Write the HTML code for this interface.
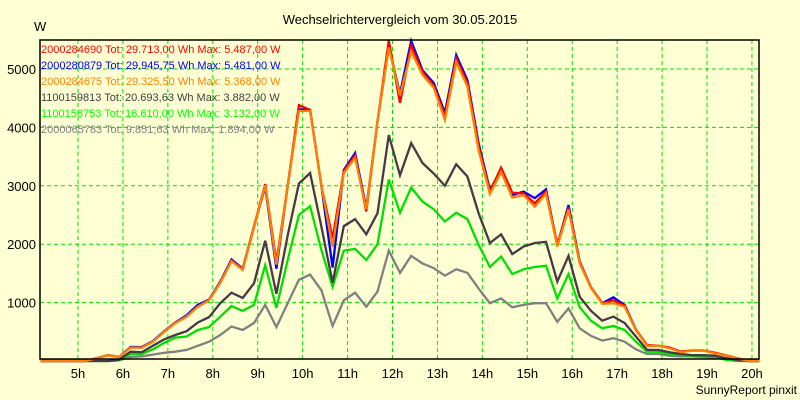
<!DOCTYPE html>
<html><head><meta charset="utf-8"><style>
html,body{margin:0;padding:0;background:#ffffd4;}
svg{display:block;font-family:"Liberation Sans",Arial,sans-serif;}
</style></head><body>
<svg id="chart" width="800" height="400" viewBox="0 0 800 400" xmlns="http://www.w3.org/2000/svg">
<rect x="0" y="0" width="800" height="400" fill="#ffffd4"/>
<text x="400" y="24" text-anchor="middle" font-size="13" fill="#000">Wechselrichtervergleich vom 30.05.2015</text>
<text x="34" y="31" font-size="13" fill="#000">W</text>
<g id="grid"></g>
<g id="series"></g>
<g id="axes"></g>
<g id="legend"></g>
<text x="797" y="394" text-anchor="end" font-size="12" fill="#000">SunnyReport pinxit</text>
</svg>
<script>
const startHour = 4 + 10/60;
const stepHours = 0.25;
const yTicks = [1000, 2000, 3000, 4000, 5000];
const xTickHours = [5,6,7,8,9,10,11,12,13,14,15,16,17,18,19,20];
const xTickLabels = ["5h","6h","7h","8h","9h","10h","11h","12h","13h","14h","15h","16h","17h","18h","19h","20h"];
const seriesNames = ["2000284690","2000280879","2000284675","1100159813","1100158753","2000065783"];
const legendTexts = [
 "2000284690 Tot: 29.713,00 Wh Max: 5.487,00 W",
 "2000280879 Tot: 29.945,75 Wh Max: 5.481,00 W",
 "2000284675 Tot: 29.325,50 Wh Max: 5.368,00 W",
 "1100159813 Tot: 20.693,63 Wh Max: 3.882,00 W",
 "1100158753 Tot: 16.610,00 Wh Max: 3.132,00 W",
 "2000065783 Tot: 9.851,63 Wh Max: 1.894,00 W"];
const red = [0,0,0,0,0,50,100,70,230,230,330,500,650,760,930,1040,1340,1720,1570,2300,3030,1700,3000,4380,4300,3000,2100,3250,3520,2560,4100,5487,4420,5400,4950,4720,4200,5180,4760,3680,2900,3310,2880,2870,2700,2900,1990,2630,1690,1260,990,1040,950,530,270,260,230,160,180,180,140,100,50,0,0];
const blue = [0,0,0,0,0,50,100,70,240,240,340,510,660,780,960,1050,1360,1740,1580,2300,2980,1580,3000,4310,4300,3000,1600,3270,3560,2620,4100,5380,4580,5481,4980,4760,4250,5240,4810,3730,2930,3270,2840,2900,2790,2940,1980,2670,1700,1260,990,1090,960,540,270,260,230,160,180,180,140,100,50,0,0];
const orange = [0,0,0,0,0,50,100,70,230,230,330,500,650,760,930,1040,1340,1710,1560,2280,3010,1650,3000,4280,4280,3000,1950,3220,3480,2600,4100,5368,4550,5300,4900,4680,4130,5120,4700,3610,2860,3240,2800,2840,2640,2870,1960,2590,1670,1250,980,990,930,530,260,260,220,150,180,180,130,100,50,0,0];
const dark = [0,0,0,0,0,0,0,20,160,150,260,370,445,510,660,750,990,1170,1080,1330,2060,1150,2150,3040,3220,2300,1340,2310,2430,2170,2530,3870,3180,3730,3390,3210,3000,3370,3160,2530,2020,2170,1830,1960,2020,2040,1360,1800,1100,860,690,760,650,420,190,190,150,120,100,100,90,50,20,0,0];
const green = [0,0,0,0,0,0,0,10,120,120,200,310,400,420,530,580,760,940,860,960,1640,910,1730,2500,2650,1900,1270,1890,1920,1730,2000,3110,2540,2970,2730,2600,2390,2540,2430,1990,1610,1790,1490,1570,1610,1630,1070,1490,920,690,560,600,530,330,160,160,120,100,90,90,70,20,0,0,0];
const gray = [0,0,0,0,0,0,0,10,70,80,110,140,160,190,260,330,445,590,530,650,960,580,990,1390,1480,1210,600,1040,1170,930,1190,1890,1510,1800,1670,1590,1460,1570,1510,1240,990,1070,920,960,990,990,670,900,560,430,350,390,330,200,120,120,90,80,80,70,60,30,0,0,0];

const L=40,R=759,T=40,B=359;
function xScale(h){return 78 + (h-5)*44.93;}
function yScale(v){return 361 - v*0.0584;}
const NS="http://www.w3.org/2000/svg";
const grid=document.getElementById('grid'), axes=document.getElementById('axes'), sg=document.getElementById('series'), lg=document.getElementById('legend');
function mk(tag,attrs,parent){const e=document.createElementNS(NS,tag);for(const k in attrs)e.setAttribute(k,attrs[k]);parent.appendChild(e);return e;}

yTicks.forEach(v=>{
  const y=yScale(v);
  const g=mk('line',{x1:L,x2:R,y1:y,y2:y,stroke:'#00e000','stroke-width':1,'stroke-dasharray':'4,3'},grid);
  
  
  const t=mk('text',{x:36,y:y+5,'text-anchor':'end','font-size':13,fill:'#000'},axes);
  t.textContent=String(v);
  
  
});
xTickHours.forEach((h,i)=>{
  const x=xScale(h);
  const g=mk('line',{x1:x,x2:x,y1:T,y2:B,stroke:'#00e000','stroke-width':1,'stroke-dasharray':'4,3'},grid);
  
  
  const t=mk('text',{x:x,y:378,'text-anchor':'middle','font-size':13,fill:'#000'},axes);
  t.textContent=xTickLabels[i];
  
  
});
const frame=mk('rect',{x:L,y:T,width:R-L,height:B-T,fill:'none',stroke:'#000','stroke-width':1.5},axes);



const seriesData=[gray,green,dark,blue,red,orange];
const seriesColors=['#808080','#00e000','#483848','#0000ff','#ff0000','#ff8000'];
const seriesKeys=['series-2000065783','series-1100158753','series-1100159813','series-2000280879','series-2000284690','series-2000284675'];
seriesData.forEach((arr,si)=>{
  const pts=arr.map((v,i)=>xScale(startHour+i*stepHours).toFixed(1)+','+yScale(v).toFixed(1)).join(' ');
  const p=mk('polyline',{points:pts,fill:'none',stroke:seriesColors[si],'stroke-width':2.3,'stroke-linejoin':'miter'},sg);
  
  
});
const legendColors=['#ff0000','#0000ff','#ff8000','#404040','#00ff00','#808080'];
legendTexts.forEach((s,i)=>{
  const t=mk('text',{x:41,y:53+i*16,'font-size':11,fill:legendColors[i]},lg);
  t.textContent=s;
  
  
});
</script>
</body></html>
